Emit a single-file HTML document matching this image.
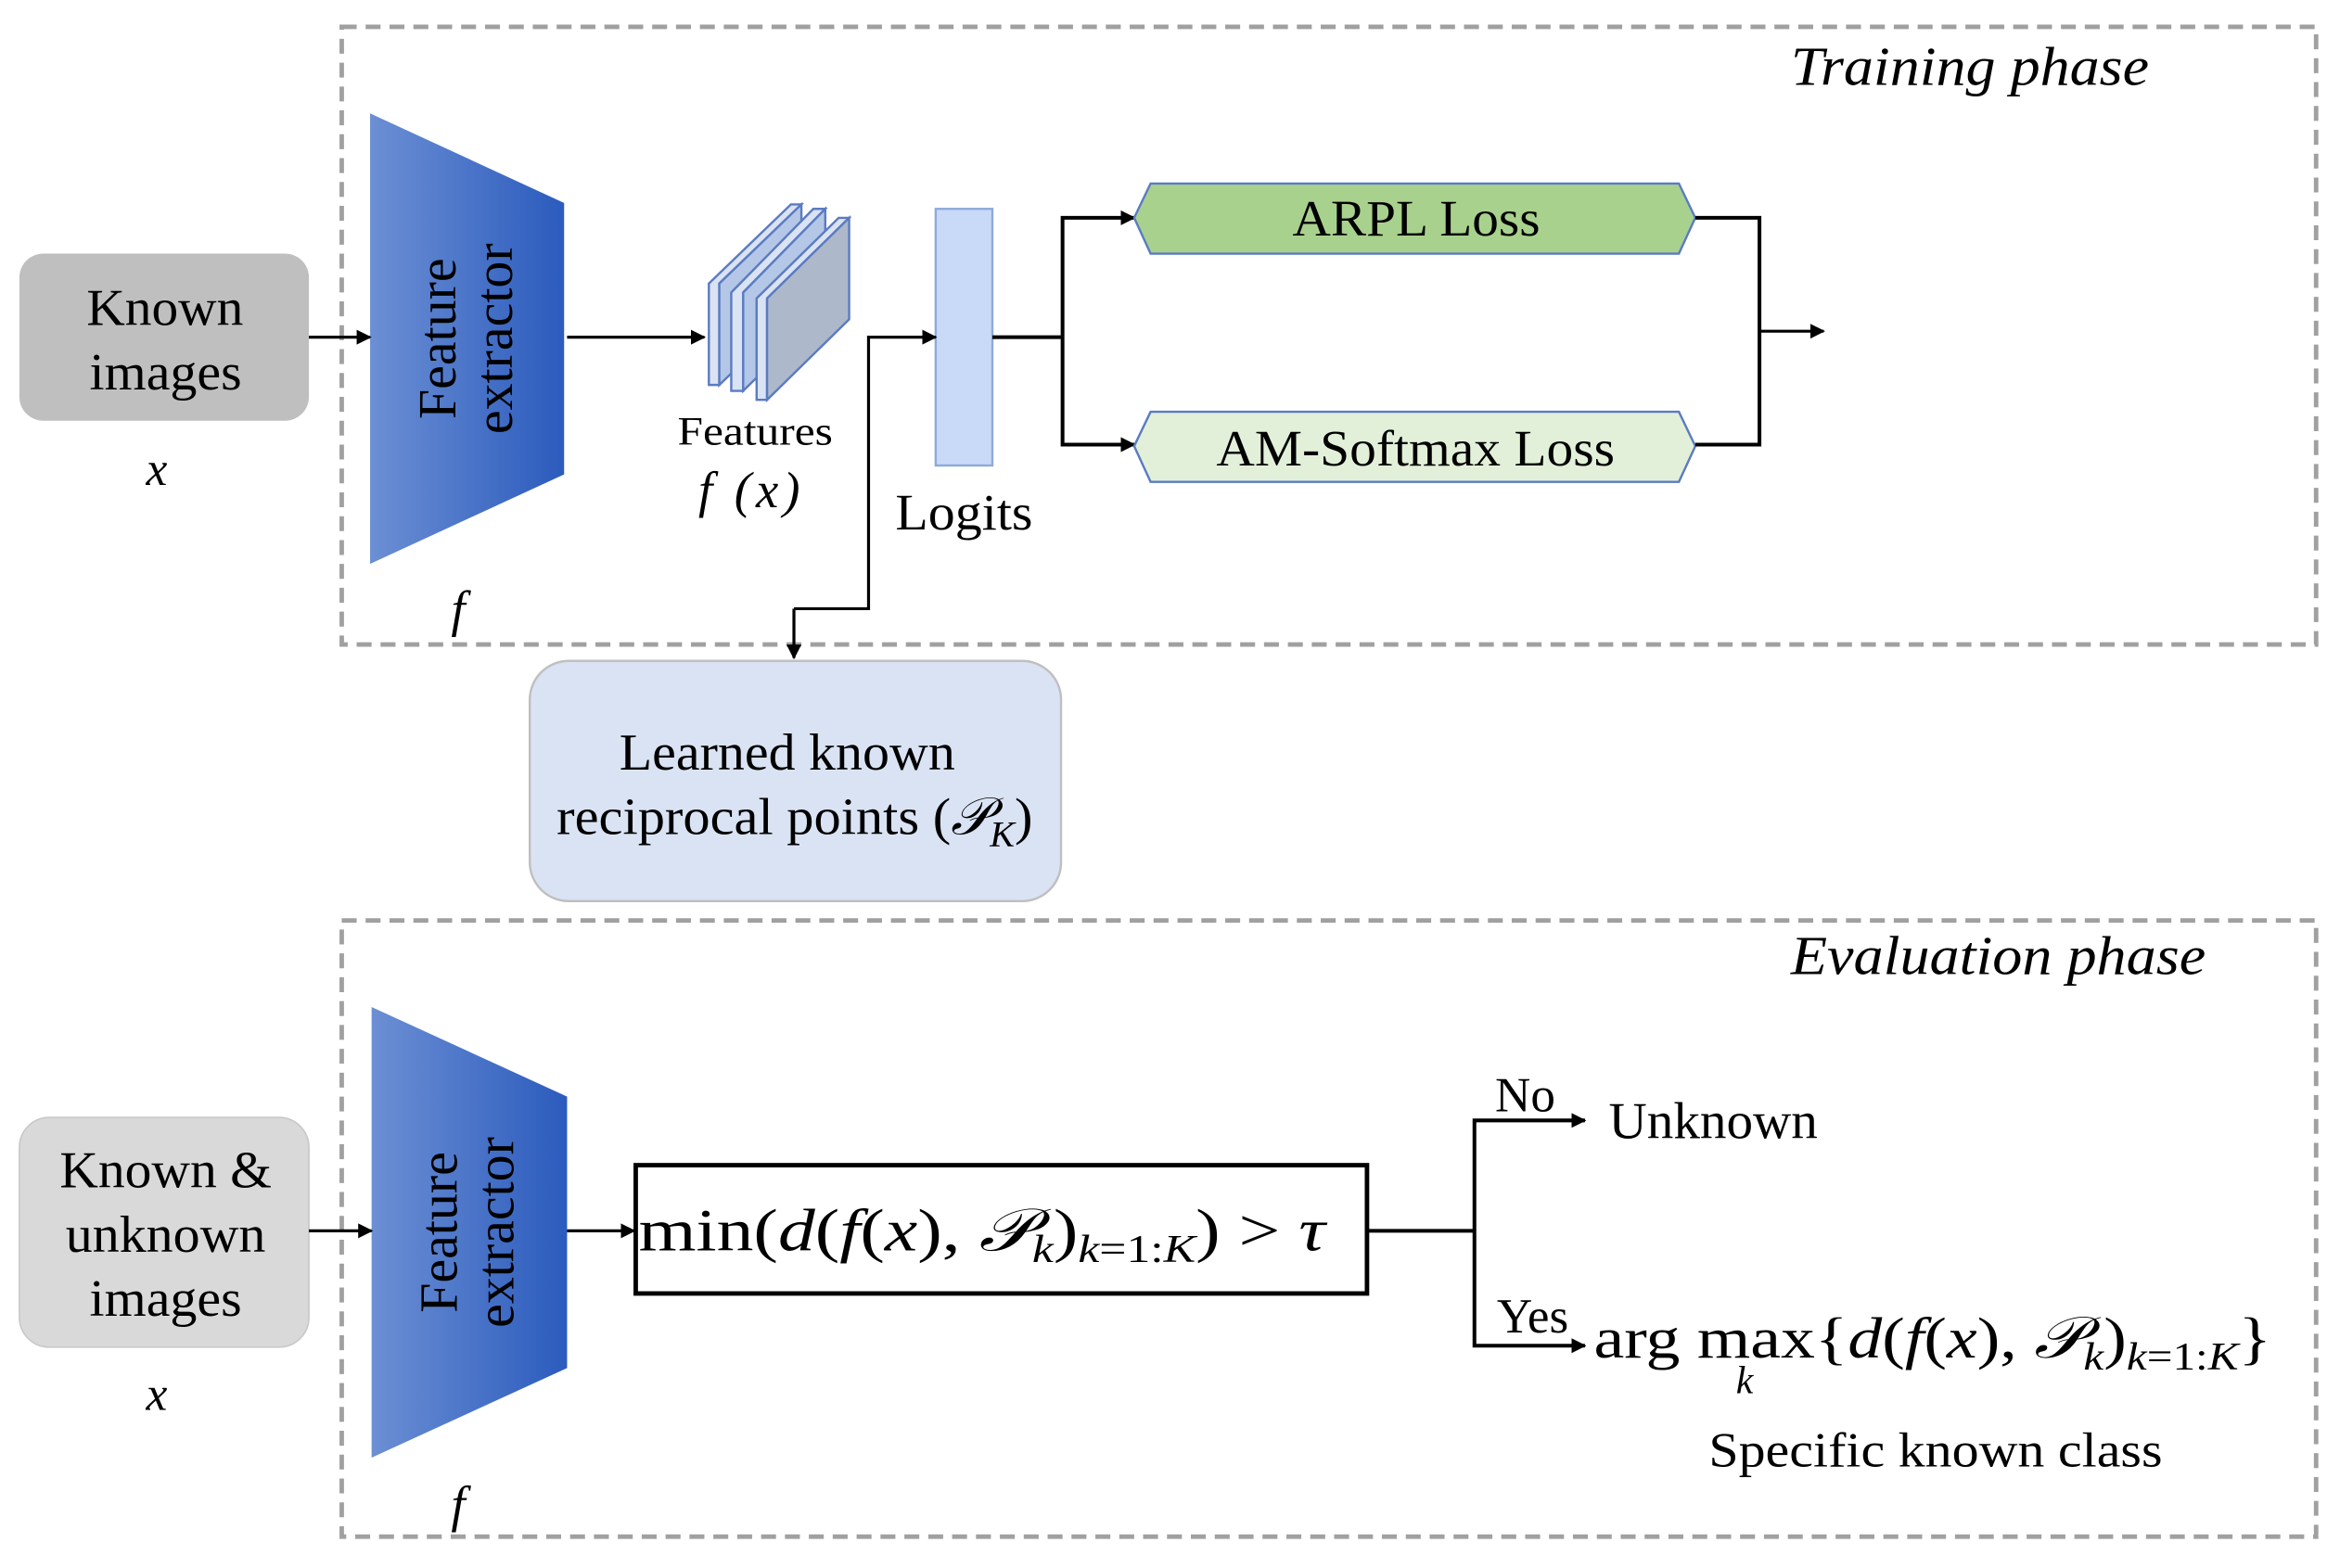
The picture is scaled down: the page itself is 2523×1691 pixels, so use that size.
<!DOCTYPE html>
<html><head><meta charset="utf-8"><style>
html,body{margin:0;padding:0;background:#fff;}
svg{display:block;}
text{font-family:"Liberation Serif",serif;fill:#000;}
.it{font-style:italic;}
</style></head><body>
<svg width="2523" height="1691" viewBox="0 0 1568 1051" preserveAspectRatio="none" xmlns="http://www.w3.org/2000/svg">
<defs>
<linearGradient id="g" x1="0" x2="1" y1="0" y2="0"><stop offset="0" stop-color="#6c8fd4"/><stop offset="1" stop-color="#2b5bbd"/></linearGradient>
<marker id="a" markerWidth="10" markerHeight="10" refX="9" refY="5" orient="auto" markerUnits="userSpaceOnUse"><path d="M0,0 L10,5 L0,10 z" fill="#000"/></marker>
</defs>
<rect x="229" y="18" width="1323" height="414" fill="none" stroke="#a0a0a0" stroke-width="3" stroke-dasharray="10,6"/>
<rect x="229" y="617" width="1323" height="413" fill="none" stroke="#a0a0a0" stroke-width="3" stroke-dasharray="10,6"/>
<text x="1200" y="57" font-size="37" class="it" textLength="240" lengthAdjust="spacingAndGlyphs">Training phase</text>
<text x="1200" y="653" font-size="37" class="it" textLength="278" lengthAdjust="spacingAndGlyphs">Evaluation phase</text>

<rect x="13" y="170" width="194" height="112" rx="16" fill="#bfbfbf"/>
<text x="58" y="218" font-size="35" textLength="105" lengthAdjust="spacingAndGlyphs">Known</text>
<text x="60" y="261" font-size="35" textLength="102" lengthAdjust="spacingAndGlyphs">images</text>
<text x="105" y="325" font-size="32" text-anchor="middle" class="it">x</text>
<polygon points="248,76 378,136 378,318 248,378" fill="url(#g)"/>
<g transform="translate(313,227) rotate(-90)"><text x="0" y="-8" font-size="36" text-anchor="middle">Feature</text><text x="0" y="30" font-size="36" text-anchor="middle">extractor</text></g>
<text x="307" y="420" font-size="34" text-anchor="middle" class="it">f</text>
<line x1="207" y1="226" x2="248" y2="226" stroke="#000" stroke-width="2" marker-end="url(#a)"/>
<line x1="380" y1="226" x2="472" y2="226" stroke="#000" stroke-width="2" marker-end="url(#a)"/>
<g stroke="#5b7bc2" stroke-width="1.5">
<polygon points="475,190 530,137 537,137 482,190 482,258 475,258" fill="#dae3f3"/>
<polygon points="482,190 537,137 537,205 482,258" fill="#b4c7e7"/>
<polygon points="490,196 545,140 553,140 498,196 498,262 490,262" fill="#dae3f3"/>
<polygon points="498,196 553,140 553,208 498,262" fill="#b4c7e7"/>
<polygon points="507,200 562,146 569,146 514,200 514,268 507,268" fill="#dae3f3"/>
<polygon points="514,200 569,146 569,214 514,268" fill="#adb9ca"/>
</g>
<text x="454" y="298" font-size="27" textLength="104" lengthAdjust="spacingAndGlyphs">Features</text>
<text x="468" y="340" font-size="34" class="it" textLength="68" lengthAdjust="spacing">f (x)</text>
<rect x="627" y="140" width="38" height="172" fill="#c9daf8" stroke="#8eaadb" stroke-width="1.5"/>
<text x="600" y="355" font-size="34" textLength="92" lengthAdjust="spacingAndGlyphs">Logits</text>
<polyline points="532,408 582,408 582,226 627,226" fill="none" stroke="#000" stroke-width="2" marker-end="url(#a)"/>
<line x1="532" y1="408" x2="532" y2="441" stroke="#000" stroke-width="2" marker-end="url(#a)"/>
<line x1="665" y1="226" x2="712" y2="226" stroke="#000" stroke-width="2.5"/>
<polyline points="760,146 712,146 712,298 760,298" fill="none" stroke="#000" stroke-width="2.5"/>
<line x1="712" y1="146" x2="760" y2="146" stroke="#000" stroke-width="2" marker-end="url(#a)"/>
<line x1="712" y1="298" x2="760" y2="298" stroke="#000" stroke-width="2" marker-end="url(#a)"/>
<polygon points="760,146 771,123 1125,123 1136,146 1125,170 771,170" fill="#a9d18e" stroke="#5b7bc2" stroke-width="1.5"/>
<text x="866" y="158" font-size="34" textLength="166" lengthAdjust="spacingAndGlyphs">ARPL Loss</text>
<polygon points="760,299 771,276 1125,276 1136,299 1125,323 771,323" fill="#e2f0d9" stroke="#5b7bc2" stroke-width="1.5"/>
<text x="815" y="312" font-size="34" textLength="267" lengthAdjust="spacingAndGlyphs">AM-Softmax Loss</text>
<polyline points="1136,146 1179,146 1179,298 1136,298" fill="none" stroke="#000" stroke-width="2.5"/>
<line x1="1179" y1="222" x2="1222" y2="222" stroke="#000" stroke-width="2" marker-end="url(#a)"/>
<rect x="355" y="443" width="356" height="161" rx="26" fill="#dae3f3" stroke="#bfbfbf" stroke-width="1.5"/>
<text x="415" y="516" font-size="35" textLength="225" lengthAdjust="spacingAndGlyphs">Learned known</text>
<text x="373" y="559" font-size="35" textLength="319" lengthAdjust="spacingAndGlyphs">reciprocal points (<tspan class="it">𝒫</tspan><tspan class="it" font-size="24" dy="8">K</tspan><tspan dy="-8">)</tspan></text>

<rect x="13" y="749" width="194" height="154" rx="20" fill="#d9d9d9" stroke="#c8c8c8"/>
<text x="40" y="796" font-size="35" textLength="142" lengthAdjust="spacingAndGlyphs">Known &amp;</text>
<text x="44" y="839" font-size="35" textLength="134" lengthAdjust="spacingAndGlyphs">unknown</text>
<text x="60" y="882" font-size="35" textLength="102" lengthAdjust="spacingAndGlyphs">images</text>
<text x="105" y="945" font-size="32" text-anchor="middle" class="it">x</text>
<polygon points="249,675 380,735 380,917 249,977" fill="url(#g)"/>
<g transform="translate(314,826) rotate(-90)"><text x="0" y="-8" font-size="36" text-anchor="middle">Feature</text><text x="0" y="30" font-size="36" text-anchor="middle">extractor</text></g>
<text x="307" y="1020" font-size="34" text-anchor="middle" class="it">f</text>
<line x1="207" y1="825" x2="249" y2="825" stroke="#000" stroke-width="2" marker-end="url(#a)"/>
<line x1="380" y1="825" x2="425" y2="825" stroke="#000" stroke-width="2" marker-end="url(#a)"/>
<rect x="426" y="781" width="490" height="86" fill="#fff" stroke="#000" stroke-width="3"/>
<text x="428" y="838" font-size="40" textLength="460" lengthAdjust="spacingAndGlyphs">min(<tspan class="it">d</tspan>(<tspan class="it">f</tspan>(<tspan class="it">x</tspan>), <tspan class="it">𝒫</tspan><tspan class="it" font-size="26" dy="8">k</tspan><tspan dy="-8">)</tspan><tspan font-size="26" dy="8" class="it">k</tspan><tspan font-size="26">=1:</tspan><tspan font-size="26" class="it">K</tspan><tspan dy="-8">) &gt; </tspan><tspan class="it">τ</tspan></text>
<line x1="916" y1="825" x2="988" y2="825" stroke="#000" stroke-width="2.5"/>
<polyline points="1062,751 988,751 988,902 1062,902" fill="none" stroke="#000" stroke-width="2.5"/>
<line x1="1040" y1="751" x2="1062" y2="751" stroke="#000" stroke-width="2" marker-end="url(#a)"/>
<line x1="1040" y1="902" x2="1062" y2="902" stroke="#000" stroke-width="2" marker-end="url(#a)"/>
<text x="1022" y="745" font-size="33" text-anchor="middle">No</text>
<text x="1078" y="763" font-size="35" textLength="140" lengthAdjust="spacingAndGlyphs">Unknown</text>
<text x="1027" y="893" font-size="33" text-anchor="middle">Yes</text>
<text x="1068" y="910" font-size="39" textLength="454" lengthAdjust="spacingAndGlyphs">arg max{<tspan class="it">d</tspan>(<tspan class="it">f</tspan>(<tspan class="it">x</tspan>), <tspan class="it">𝒫</tspan><tspan class="it" font-size="26" dy="8">k</tspan><tspan dy="-8">)</tspan><tspan font-size="26" dy="8" class="it">k</tspan><tspan font-size="26">=1:</tspan><tspan font-size="26" class="it">K</tspan><tspan dy="-8">}</tspan></text>
<text x="1169" y="934" font-size="26" text-anchor="middle" class="it">k</text>
<text x="1145" y="983" font-size="33" textLength="304" lengthAdjust="spacingAndGlyphs">Specific known class</text>
</svg>
</body></html>
